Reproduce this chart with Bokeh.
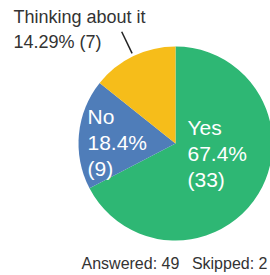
import math
from bokeh.plotting import figure
from bokeh.models import Range1d
from bokeh.core.properties import value
from bokeh.embed import file_html
from bokeh.resources import INLINE

# ---- data ----
categories = ["Yes", "No", "Thinking about it"]
counts = [33, 9, 7]
pct_labels = ["67.4%", "18.4%", "14.29%"]
colors = ["#2eb774", "#4f7db9", "#f6bd1a"]
answered = 49
skipped = 2

# ---- layout (pixel-like data space) ----
W, H = 270, 275
cx, cy, R = 175, 132, 97
FONT = value("Liberation Sans")

p = figure(width=W, height=H, output_backend="svg", toolbar_location=None,
           x_range=Range1d(0, W), y_range=Range1d(0, H), min_border=0)
p.axis.visible = False
p.grid.visible = False
p.outline_line_color = None
p.background_fill_color = "white"
p.border_fill_color = "white"

total = sum(counts)
start = math.pi / 2
starts, ends, mids = [], [], []
for c in counts:
    span = 2 * math.pi * c / total
    starts.append(start)
    ends.append(start - span)
    mids.append(start - span / 2)
    start -= span

p.wedge(x=[cx] * 3, y=[cy] * 3, radius=R, start_angle=starts, end_angle=ends,
        direction="clock", fill_color=colors, line_color=None)

# inside labels (Yes, No)
inside_pos = [(cx + 12, cy + 28), (cx - 88, cy + 39)]
for i in range(2):
    txt = f"{categories[i]}\n{pct_labels[i]}\n({counts[i]})"
    p.text(x=[inside_pos[i][0]], y=[inside_pos[i][1]], text=[txt],
           text_font=FONT, text_font_size="21px", text_color="white",
           text_align="left", text_baseline="top", text_line_height=1.15)

# outside label for "Thinking about it"
m = mids[2]
x0, y0 = cx + (R + 3) * math.cos(m), cy + (R + 3) * math.sin(m)
x1, y1 = cx + (R + 27) * math.cos(m), cy + (R + 27) * math.sin(m)
p.line(x=[x0, x1], y=[y0, y1], line_color="#222222", line_width=1.5)
p.text(x=[13], y=[269], text=[f"{categories[2]}\n{pct_labels[2]} ({counts[2]})"],
       text_font=FONT, text_font_size="18px", text_color="#333333",
       text_align="left", text_baseline="top", text_line_height=1.25)

# footer
p.text(x=[81], y=[12], text=[f"Answered: {answered}"], text_font=FONT,
       text_font_size="16px", text_color="#333333", text_align="left",
       text_baseline="middle")
p.text(x=[267], y=[12], text=[f"Skipped: {skipped}"], text_font=FONT,
       text_font_size="16px", text_color="#333333", text_align="right",
       text_baseline="middle")

open("out.html", "w").write(file_html(p, INLINE))
